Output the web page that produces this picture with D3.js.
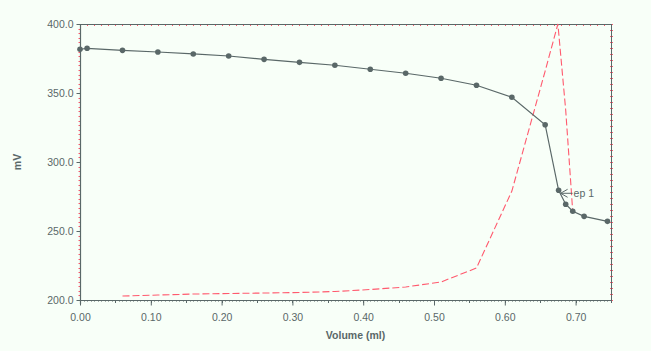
<!DOCTYPE html>
<html>
<head>
<meta charset="utf-8">
<script src="https://cdn.jsdelivr.net/npm/d3@7"></script>
<style>
  html, body { margin: 0; padding: 0; background: #f8fff8; }
  svg { display: block; }
  text { font-family: "Liberation Sans", Arial, sans-serif; fill: #5a6868; }
</style>
</head>
<body>
<svg id="chart" width="651" height="351"></svg>
<script>
// titration curve (mV vs volume)
const volume = [0.000, 0.010, 0.060, 0.110, 0.160, 0.210, 0.260, 0.310, 0.360, 0.410,
                0.460, 0.510, 0.560, 0.610, 0.657, 0.676, 0.686, 0.696, 0.712, 0.745];
const mV = [381.7, 382.4, 380.9, 379.7, 378.3, 376.8, 374.4, 372.2, 370.1, 367.2,
            364.3, 360.7, 355.6, 346.9, 327.0, 279.5, 269.4, 264.3, 260.6, 257.0];

// first derivative (dE/dV, mV/ml), red dashed
const derivVolume = [0.060, 0.110, 0.160, 0.210, 0.260, 0.310, 0.360, 0.410, 0.460,
                     0.510, 0.560, 0.610, 0.657, 0.675, 0.686, 0.696];
const derivValue = [36, 45, 54, 59, 63, 68, 77, 95, 118, 163, 290, 987, 2074, 2500, 1721, 797];

const yTicks = [200, 250, 300, 350, 400];
const xTicks = [0, 0.1, 0.2, 0.3, 0.4, 0.5, 0.6, 0.7];

// endpoint marker
const endpoint = { v: 0.676, e: 279.5, label: "ep 1" };

const gray = "#5a6868";
const red = "#ff5a6e";

const margin = { left: 80, right: 40, top: 24, bottom: 51 };
const W = 651, H = 351;

const svg = d3.select("#chart");

const x = d3.scaleLinear().domain([0, 0.75]).range([margin.left, W - margin.right]);
const y = d3.scaleLinear().domain([200, 400]).range([H - margin.bottom, margin.top]);
const yR = d3.scaleLinear().domain([0, 2500]).range([H - margin.bottom, margin.top]);

const x0 = x.range()[0], x1 = x.range()[1];
const y0 = y.range()[0], y1 = y.range()[1];

// minor ticks
const g = svg.append("g");
g.selectAll("line.ylminor")
  .data(d3.range(0, 61).map(i => 200 + i * 200 / 60))
  .enter().append("line")
  .attr("x1", x0 - 1.5).attr("x2", x0)
  .attr("y1", d => Math.round(y(d)) + 0.5).attr("y2", d => Math.round(y(d)) + 0.5)
  .attr("stroke", red).attr("stroke-width", 1);

g.selectAll("line.xminor")
  .data(d3.range(0, 151).map(i => i * 0.005))
  .enter().append("line")
  .attr("x1", d => Math.round(x(d)) + 0.5).attr("x2", d => Math.round(x(d)) + 0.5)
  .attr("y1", y0).attr("y2", (d, i) => y0 + (i % 10 === 0 ? 3 : 1.5))
  .attr("stroke", gray).attr("stroke-width", 1);

// top and right edges with dotted ticks
g.selectAll("line.topdot")
  .data(d3.range(0, 76).map(i => i * 0.01))
  .enter().append("line")
  .attr("x1", d => Math.round(x(d)) + 0.5).attr("x2", d => Math.round(x(d)) + 0.5)
  .attr("y1", y1 + 1).attr("y2", y1 + 2)
  .attr("stroke", red).attr("stroke-width", 1);

g.selectAll("line.rdot")
  .data(d3.range(0, 47).map(i => i * 2500 / 46))
  .enter().append("line")
  .attr("x1", x1 - 1).attr("x2", x1 + 2)
  .attr("y1", d => Math.round(yR(d)) + 0.5).attr("y2", d => Math.round(yR(d)) + 0.5)
  .attr("stroke", red).attr("stroke-width", 1);

svg.append("line").attr("x1", x0).attr("x2", x1 + 0.5).attr("y1", y1 + 0.5).attr("y2", y1 + 0.5)
  .attr("stroke", gray).attr("stroke-width", 1);
svg.append("line").attr("x1", x1 + 0.5).attr("x2", x1 + 0.5).attr("y1", y1).attr("y2", y0 + 3)
  .attr("stroke", gray).attr("stroke-width", 1);

// axes
const yAxis = d3.axisLeft(y).tickValues(yTicks).tickFormat(d3.format(".1f")).tickSize(4).tickPadding(3);
const xAxis = d3.axisBottom(x).tickValues(xTicks).tickFormat(d3.format(".2f")).tickSize(5).tickPadding(8);

const gy = svg.append("g").attr("transform", `translate(${x0 + 0.5},0)`).call(yAxis);
const gx = svg.append("g").attr("transform", `translate(0,${y0 + 0.5})`).call(xAxis);
[gy, gx].forEach(a => {
  a.selectAll("path").attr("stroke", gray).attr("stroke-width", 1.2);
  a.selectAll("line").attr("stroke", gray);
  a.selectAll("text").attr("fill", gray).style("font-size", "10.5px")
    .style("font-family", "'Liberation Sans', Arial, sans-serif");
});
gy.select(".domain").attr("d", `M0,${y0 + 4}V${y1}`);
gx.select(".domain").attr("d", `M${x0},0H${x1}`);

// derivative curve
const derivLine = d3.line().x((d, i) => x(derivVolume[i])).y(d => yR(d));
svg.append("path")
  .attr("d", derivLine(derivValue))
  .attr("fill", "none").attr("stroke", red).attr("stroke-width", 1.1)
  .attr("stroke-dasharray", "7,3");

// titration curve
const pts = volume.map((v, i) => [v, mV[i]]);
svg.append("path")
  .attr("d", d3.line().x(d => x(d[0])).y(d => y(d[1]))(pts))
  .attr("fill", "none").attr("stroke", gray).attr("stroke-width", 1.2);
svg.selectAll("circle.pt").data(pts).enter().append("circle")
  .attr("cx", d => x(d[0])).attr("cy", d => y(d[1])).attr("r", 2.8)
  .attr("fill", gray);

// endpoint annotation
const ex = x(endpoint.v), ey = y(endpoint.e) + 3;
svg.append("path")
  .attr("d", `M${ex + 9},${ey - 4}L${ex + 2},${ey}L${ex + 9},${ey + 4}M${ex + 2},${ey}H${ex + 14}`)
  .attr("fill", "none").attr("stroke", gray).attr("stroke-width", 1);
svg.append("text").attr("x", ex + 15).attr("y", ey + 4)
  .style("font-size", "10.5px").text(endpoint.label);

// axis titles
svg.append("text").attr("x", (x0 + x1) / 2 + 10).attr("y", 339)
  .attr("text-anchor", "middle").style("font-size", "10.5px").style("font-weight", "bold")
  .text("Volume (ml)");
svg.append("text").attr("transform", `translate(21,${(y0 + y1) / 2}) rotate(-90)`)
  .attr("text-anchor", "middle").style("font-size", "10.5px").style("font-weight", "bold")
  .text("mV");
</script>
</body>
</html>
